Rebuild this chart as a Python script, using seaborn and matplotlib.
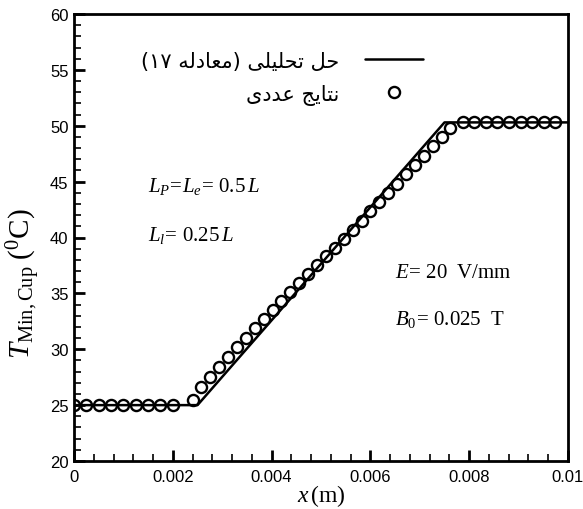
import numpy as np
import pandas as pd
import matplotlib
matplotlib.use("Agg")
import matplotlib.pyplot as plt
import seaborn as sns
from matplotlib.ticker import MultipleLocator, FuncFormatter

# ---------------- data ----------------
# analytical solution (piecewise linear)
x_analytic = [0.0, 0.0025, 0.0075, 0.01]
t_analytic = [25.0, 25.0, 50.3, 50.3]

# numerical results (open circles)
x_numeric = [0.0, 0.00025, 0.0005, 0.00075, 0.001, 0.00125, 0.0015, 0.00175, 0.002,
             0.0024, 0.00258, 0.00276, 0.00294, 0.00312, 0.0033, 0.00348, 0.00366,
             0.00384, 0.00402, 0.0042, 0.00438, 0.00456, 0.00474, 0.00492, 0.0051,
             0.00528, 0.00546, 0.00564, 0.00582, 0.006, 0.00618, 0.00636, 0.00654,
             0.00672, 0.0069, 0.00708, 0.00726, 0.00744, 0.00762,
             0.00787, 0.0081, 0.00834, 0.00857, 0.00881, 0.00904, 0.00927, 0.00951, 0.00974]
t_numeric = [25.0, 25.0, 25.0, 25.0, 25.0, 25.0, 25.0, 25.0, 25.0,
             25.5, 26.6, 27.5, 28.4, 29.3, 30.2, 31.0, 31.9,
             32.7, 33.5, 34.3, 35.1, 35.9, 36.7, 37.5, 38.3,
             39.1, 39.9, 40.7, 41.5, 42.4, 43.2, 44.0, 44.8,
             45.7, 46.5, 47.3, 48.2, 49.0, 49.8,
             50.3, 50.3, 50.3, 50.3, 50.3, 50.3, 50.3, 50.3, 50.3]

# legend labels (Persian, shaped into presentation forms in visual order)
label_analytic = ("(\u06F1\u06F7 "
                  "\uFEEA\uFEDF\uFEA9\uFE8E\uFECC\uFEE3) "
                  "\uFEF0\uFEE0\uFEF4\uFEE0\uFEA4\uFE97 "
                  "\uFEDE\uFEA3")
label_numeric = ("\uFEEF\uFEA9\uFEAA\uFECB "
                 "\uFE9E\uFEF3\uFE8E\uFE98\uFEE7")

x_ticks = [0, 0.002, 0.004, 0.006, 0.008, 0.01]
y_ticks = [20, 25, 30, 35, 40, 45, 50, 55, 60]

# ---------------- style ----------------
sns.set_theme(style="ticks")
plt.rcParams["font.family"] = ["Liberation Sans", "DejaVu Sans"]
plt.rcParams["text.color"] = "black"
plt.rcParams["axes.labelcolor"] = "black"
plt.rcParams["xtick.color"] = "black"
plt.rcParams["ytick.color"] = "black"
plt.rcParams["mathtext.fontset"] = "custom"
plt.rcParams["mathtext.rm"] = "Liberation Serif"
plt.rcParams["mathtext.it"] = "Liberation Serif:italic"
plt.rcParams["mathtext.bf"] = "Liberation Serif:bold"

fig = plt.figure(figsize=(5.83, 5.10), dpi=100)
ax = fig.add_axes([74/583, 48/510, 494/583, 447/510])

df_a = pd.DataFrame({"x": x_analytic, "T": t_analytic})
df_n = pd.DataFrame({"x": x_numeric, "T": t_numeric})

sns.lineplot(data=df_a, x="x", y="T", ax=ax, color="black", lw=1.8,
             estimator=None, sort=False, label=label_analytic)
sns.lineplot(data=df_n, x="x", y="T", ax=ax, color="black", linestyle="",
             marker="o", markersize=8, markerfacecolor="none",
             markeredgecolor="black", markeredgewidth=1.7,
             estimator=None, sort=False, label=label_numeric)

ax.set_xlim(0, 0.01)
ax.set_ylim(20, 60)
ax.set_xticks(x_ticks)
ax.set_yticks(y_ticks)
ax.xaxis.set_minor_locator(MultipleLocator(0.0004))
ax.yaxis.set_minor_locator(MultipleLocator(1))
ax.xaxis.set_major_formatter(FuncFormatter(lambda v, p: "%g" % round(v, 6)))

for s in ax.spines.values():
    s.set_visible(True)
    s.set_linewidth(2.0)
    s.set_color("black")

ax.tick_params(which="both", direction="in", top=False, right=False,
               colors="black", labelsize=12)
ax.tick_params(which="major", length=8, width=2)
ax.tick_params(which="minor", length=5, width=1.2)
ax.tick_params(axis="x", pad=6)
ax.tick_params(axis="y", pad=4)

ax.set_xlabel(r"$x\,(\mathrm{m})$", fontsize=17, color="black")
ax.xaxis.set_label_coords(0.5, -0.047)
ax.set_ylabel(r"$T_{\mathrm{Min,Cup}}\ (^{0}\mathrm{C})$", fontsize=21,
              color="black")
ax.yaxis.set_label_coords(-0.062, 0.40)

# annotations
ax.text(0.15, 0.617, r"$L_P\!=\!L_e\!=\,0.5\,L$", transform=ax.transAxes,
        fontsize=15, va="center", ha="left", color="black")
ax.text(0.15, 0.506, r"$L_l\!=\,0.25\,L$", transform=ax.transAxes,
        fontsize=15, va="center", ha="left", color="black")
ax.text(0.65, 0.425, r"$E\!=\,20\ \ \mathrm{V/mm}$", transform=ax.transAxes,
        fontsize=15, va="center", ha="left", color="black")
ax.text(0.65, 0.318, r"$B_0\!=\,0.025\ \ \mathrm{T}$", transform=ax.transAxes,
        fontsize=15, va="center", ha="left", color="black")

leg = ax.legend(loc="upper right", bbox_to_anchor=(0.745, 0.96),
                markerfirst=False, frameon=False, handlelength=2.8,
                handletextpad=1.25, labelspacing=0.62,
                prop={"family": ["DejaVu Sans"], "size": 15})
for t in leg.get_texts():
    t.set_color("black")

fig.savefig("out.png", dpi=100)
